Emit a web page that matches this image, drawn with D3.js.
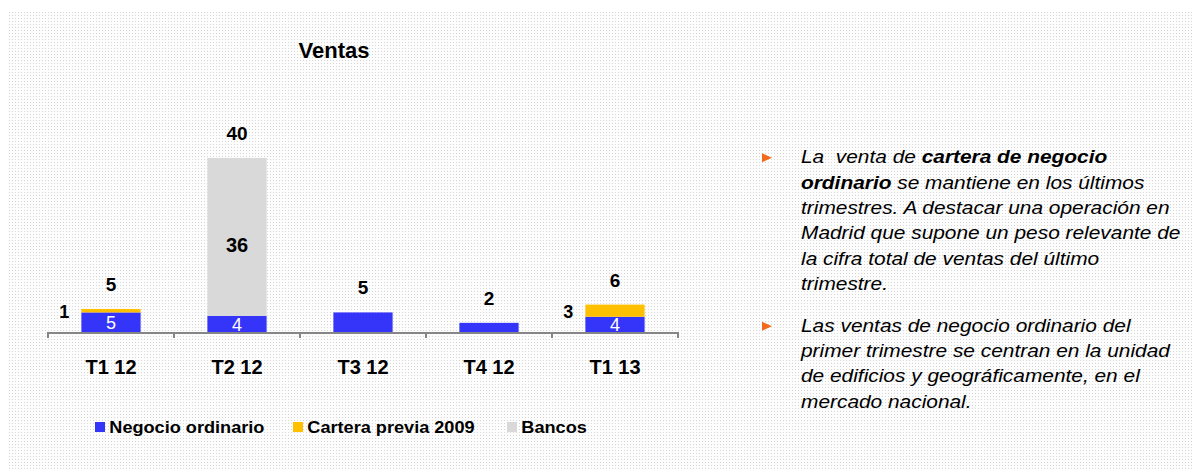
<!DOCTYPE html>
<html>
<head>
<meta charset="utf-8">
<script src="https://cdn.jsdelivr.net/npm/d3@7"></script>
<style>
  body { margin: 0; background: #fff; }
  text { font-family: Arial, "Liberation Sans", sans-serif; }
</style>
</head>
<body>
<script>
// datos
let categories = ['T1 12', 'T2 12', 'T3 12', 'T4 12', 'T1 13'];
let negocio = [4.5, 3.7, 4.5, 2.1, 3.5];
let cartera = [0.8, 0, 0, 0, 2.8];
let bancos  = [0, 36.3, 0, 0, 0];

let totalLabels   = ['5', '40', '5', '2', '6'];
let negocioLabels = ['5', '4', '', '', '4'];
let carteraLabels = ['1', '', '', '', '3'];
let bancosLabels  = ['', '36', '', '', ''];

let seriesNames = ['Negocio ordinario', 'Cartera previa 2009', 'Bancos'];
let colors = ['#3535fa', '#ffc000', '#d9d9d9'];

let bullets = [
  [
    [{t: 'La  venta de '}, {t: 'cartera de negocio', b: true}],
    [{t: 'ordinario', b: true}, {t: ' se mantiene en los últimos'}],
    [{t: 'trimestres. A destacar una operación en'}],
    [{t: 'Madrid que supone un peso relevante de'}],
    [{t: 'la cifra total de ventas del último'}],
    [{t: 'trimestre.'}]
  ],
  [
    [{t: 'Las ventas de negocio ordinario del'}],
    [{t: 'primer trimestre se centran en la unidad'}],
    [{t: 'de edificios y geográficamente, en el'}],
    [{t: 'mercado nacional.'}]
  ]
];

let width = 1192;
let height = 471;

let svg = d3.select('body').append('svg')
  .attr('width', width)
  .attr('height', height);

// fondo punteado
let pat = svg.append('defs').append('pattern')
  .attr('id', 'dots')
  .attr('width', 3).attr('height', 3)
  .attr('patternUnits', 'userSpaceOnUse');
pat.append('rect').attr('width', 3).attr('height', 3).attr('fill', '#fdfdfd');
pat.append('rect').attr('width', 1).attr('height', 1).attr('fill', '#d6d6d6');

svg.append('rect')
  .attr('x', 8).attr('y', 12)
  .attr('width', width - 8).attr('height', height - 12)
  .attr('fill', 'url(#dots)');

// titulo
svg.append('text')
  .attr('x', 334).attr('y', 58)
  .attr('text-anchor', 'middle')
  .attr('font-size', 22).attr('font-weight', 'bold')
  .text('Ventas');

let x = d3.scaleBand()
  .domain(categories)
  .range([48, 678])
  .paddingInner(0.53)
  .paddingOuter(0.265);

let y = d3.scaleLinear()
  .domain([0, 40])
  .range([332, 158]);

let rows = categories.map((c, i) => ({cat: c, negocio: negocio[i], cartera: cartera[i], bancos: bancos[i], i: i}));
let stack = d3.stack().keys(['negocio', 'cartera', 'bancos'])(rows);

let chart = svg.append('g');

chart.selectAll('g.serie')
  .data(stack)
  .enter().append('g')
  .attr('class', 'serie')
  .attr('fill', (d, i) => colors[i])
  .selectAll('rect')
  .data(d => d)
  .enter().append('rect')
  .attr('x', d => x(d.data.cat))
  .attr('y', d => y(d[1]))
  .attr('width', x.bandwidth())
  .attr('height', d => y(d[0]) - y(d[1]));

// eje
let step = x.step();
let axis = chart.append('g');
axis.append('line')
  .attr('x1', 48).attr('x2', 678)
  .attr('y1', y(0) + 1).attr('y2', y(0) + 1)
  .attr('stroke', '#868686').attr('stroke-width', 2);
let bounds = categories.map(c => x(c) - x.paddingInner() * step / 2).concat([678]);
axis.selectAll('line.tick')
  .data(bounds)
  .enter().append('line')
  .attr('class', 'tick')
  .attr('x1', d => d).attr('x2', d => d)
  .attr('y1', y(0)).attr('y2', y(0) + 6)
  .attr('stroke', '#868686').attr('stroke-width', 2);

axis.selectAll('text.cat')
  .data(categories)
  .enter().append('text')
  .attr('class', 'cat')
  .attr('x', d => x(d) + x.bandwidth() / 2)
  .attr('y', 374)
  .attr('text-anchor', 'middle')
  .attr('font-size', 20).attr('font-weight', 'bold')
  .text(d => d);

// etiquetas
let cx = d => x(d.cat) + x.bandwidth() / 2;

chart.selectAll('text.total')
  .data(rows)
  .enter().append('text')
  .attr('x', cx)
  .attr('y', d => y(d.negocio + d.cartera + d.bancos) - 18)
  .attr('text-anchor', 'middle')
  .attr('font-size', 19).attr('font-weight', 'bold')
  .text(d => totalLabels[d.i]);

chart.selectAll('text.neg')
  .data(rows)
  .enter().append('text')
  .attr('x', cx)
  .attr('y', d => y(d.negocio / 2) + 7)
  .attr('text-anchor', 'middle')
  .attr('font-size', 18).attr('fill', '#fff')
  .text(d => negocioLabels[d.i]);

chart.selectAll('text.cart')
  .data(rows)
  .enter().append('text')
  .attr('x', d => x(d.cat) - 12)
  .attr('y', d => y(d.negocio + d.cartera / 2) + 7)
  .attr('text-anchor', 'end')
  .attr('font-size', 18).attr('font-weight', 'bold')
  .text(d => carteraLabels[d.i]);

chart.selectAll('text.banc')
  .data(rows)
  .enter().append('text')
  .attr('x', cx)
  .attr('y', d => y(d.negocio + d.bancos / 2) + 15)
  .attr('text-anchor', 'middle')
  .attr('font-size', 20).attr('font-weight', 'bold')
  .text(d => bancosLabels[d.i]);

// leyenda
let legend = svg.append('g').attr('transform', 'translate(95,0)');
let legX = [0, 198, 412];
seriesNames.forEach((n, i) => {
  let g = legend.append('g').attr('transform', 'translate(' + legX[i] + ',422)');
  g.append('rect').attr('width', 10).attr('height', 10).attr('fill', colors[i]);
  g.append('text')
    .attr('x', 13).attr('y', 11)
    .attr('font-size', 16.5).attr('font-weight', 'bold')
    .attr('transform', 'scale(1.1,1)')
    .text(n);
});

// texto de la derecha
let side = svg.append('g');
let lineH = 25.4;
let starts = [163.3, 331.7];
bullets.forEach((lines, k) => {
  let by = starts[k];
  side.append('path')
    .attr('d', d3.line()([[762, by - 10], [772, by - 5.5], [762, by - 1]]))
    .attr('fill', '#f26b1d');
  let t = side.append('g').attr('transform', 'translate(801,' + by + ') scale(1.16,1)');
  lines.forEach((parts, j) => {
    let tx = t.append('text')
      .attr('x', 0).attr('y', j * lineH)
      .attr('font-size', 18).attr('font-style', 'italic')
      .attr('xml:space', 'preserve')
      .style('white-space', 'pre');
    parts.forEach(p => {
      tx.append('tspan')
        .attr('font-weight', p.b ? 'bold' : 'normal')
        .text(p.t);
    });
  });
});
</script>
</body>
</html>
